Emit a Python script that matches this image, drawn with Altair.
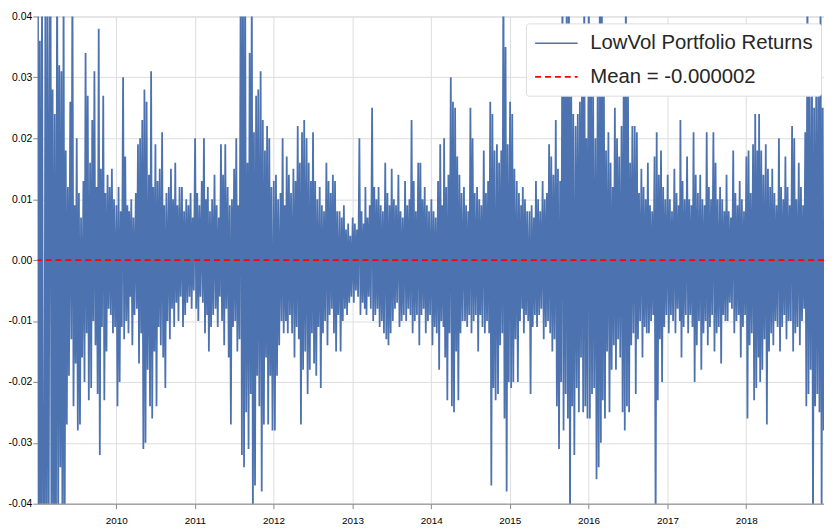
import altair as alt
import pandas as pd

r2009 = [0.058, -0.052, 0.036, -0.061, 0.047, -0.044,
         -0.049, 0.052, -0.057, 0.041, -0.042, 0.033,
         0.062, -0.055, 0.028, -0.047, 0.024, -0.058,
         0.051, -0.044, 0.032, -0.034, 0.031, -0.051,
         0.045, -0.046, 0.018, -0.027, 0.012, -0.019,
         0.026, -0.013, 0.048, -0.024, 0.009, -0.017,
         0.020, -0.028, 0.011, -0.027, 0.007, -0.016,
         0.013, -0.020, 0.034, -0.012, 0.027, -0.023,
         0.016, -0.021, 0.023, -0.010, 0.031, -0.014,
         0.012, -0.022, 0.038, -0.032, 0.015, -0.011,
         0.027, -0.023, 0.011, -0.015, 0.014, -0.008,
         0.012, -0.009, 0.015, -0.012, 0.010, -0.011]
r2010 = [0.009, -0.024, 0.012, -0.020, 0.008, -0.011,
         0.030, -0.013, 0.017, -0.010, 0.009, -0.012,
         0.008, -0.006, 0.010, -0.014, 0.007, -0.009,
         0.011, -0.008, 0.019, -0.017, 0.020, -0.012,
         0.023, -0.031, 0.028, -0.030, 0.026, -0.018,
         0.014, -0.024, 0.031, -0.026, 0.012, -0.015,
         0.019, -0.024, 0.013, -0.011, 0.015, -0.014,
         0.021, -0.016, 0.009, -0.021, 0.011, -0.010,
         0.012, -0.013, 0.015, -0.008, 0.010, -0.011,
         0.016, -0.007, 0.009, -0.010, 0.012, -0.006,
         0.012, -0.011, 0.008, -0.009, 0.010, -0.007,
         0.009, -0.006, 0.011, -0.008, 0.007, -0.005]
r2011 = [0.020, -0.008, 0.011, -0.010, 0.009, -0.006,
         0.013, -0.007, 0.020, -0.012, 0.010, -0.009,
         0.012, -0.015, 0.008, -0.011, 0.010, -0.009,
         0.014, -0.008, 0.009, -0.011, 0.007, -0.006,
         0.019, -0.010, 0.014, -0.014, 0.019, -0.008,
         0.012, -0.016, 0.009, -0.027, 0.010, -0.011,
         0.015, -0.010, 0.020, -0.015, 0.009, -0.013,
         0.052, -0.032, 0.045, -0.034, 0.048, -0.025,
         0.016, -0.031, 0.034, -0.022, 0.046, -0.043,
         0.021, -0.037, 0.027, -0.019, 0.028, -0.024,
         0.031, -0.038, 0.023, -0.027, 0.018, -0.016,
         0.022, -0.027, 0.020, -0.019, 0.012, -0.028]
r2012 = [0.013, -0.028, 0.014, -0.019, 0.010, -0.014,
         0.011, -0.010, 0.020, -0.012, 0.009, -0.010,
         0.017, -0.012, 0.014, -0.009, 0.011, -0.012,
         0.015, -0.016, 0.013, -0.011, 0.022, -0.013,
         0.016, -0.027, 0.021, -0.018, 0.023, -0.015,
         0.020, -0.022, 0.016, -0.018, 0.013, -0.012,
         0.021, -0.017, 0.013, -0.019, 0.010, -0.011,
         0.012, -0.021, 0.009, -0.012, 0.008, -0.010,
         0.016, -0.014, 0.013, -0.009, 0.011, -0.008,
         0.014, -0.012, 0.013, -0.015, 0.008, -0.009,
         0.008, -0.015, 0.007, -0.010, 0.009, -0.008,
         0.005, -0.009, 0.006, -0.007, 0.004, -0.006]
r2013 = [0.007, -0.007, 0.006, -0.005, 0.005, -0.006,
         0.020, -0.009, 0.008, -0.007, 0.006, -0.008,
         0.012, -0.009, 0.007, -0.006, 0.009, -0.008,
         0.025, -0.010, 0.012, -0.009, 0.010, -0.008,
         0.012, -0.011, 0.009, -0.010, 0.008, -0.012,
         0.016, -0.013, 0.011, -0.014, 0.009, -0.012,
         0.015, -0.010, 0.010, -0.008, 0.009, -0.007,
         0.014, -0.011, 0.008, -0.010, 0.007, -0.009,
         0.013, -0.010, 0.009, -0.008, 0.010, -0.009,
         0.023, -0.012, 0.013, -0.010, 0.008, -0.009,
         0.016, -0.014, 0.016, -0.009, 0.010, -0.008,
         0.012, -0.012, 0.009, -0.010, 0.008, -0.009]
r2014 = [0.010, -0.014, 0.008, -0.011, 0.007, -0.012,
         0.013, -0.018, 0.019, -0.010, 0.009, -0.011,
         0.020, -0.016, 0.012, -0.023, 0.014, -0.012,
         0.030, -0.024, 0.026, -0.025, 0.025, -0.015,
         0.017, -0.023, 0.014, -0.012, 0.011, -0.010,
         0.012, -0.010, 0.009, -0.011, 0.008, -0.009,
         0.025, -0.012, 0.020, -0.010, 0.011, -0.009,
         0.012, -0.015, 0.010, -0.009, 0.009, -0.011,
         0.018, -0.012, 0.011, -0.010, 0.013, -0.012,
         0.026, -0.037, 0.024, -0.021, 0.018, -0.023,
         0.019, -0.022, 0.016, -0.014, 0.018, -0.012,
         0.048, -0.026, 0.035, -0.038, 0.019, -0.020]
r2015 = [0.026, -0.021, 0.024, -0.020, 0.015, -0.013,
         0.013, -0.020, 0.011, -0.010, 0.009, -0.008,
         0.012, -0.012, 0.010, -0.009, 0.008, -0.010,
         0.008, -0.022, 0.009, -0.011, 0.007, -0.009,
         0.013, -0.011, 0.010, -0.009, 0.008, -0.008,
         0.013, -0.013, 0.010, -0.011, 0.011, -0.010,
         0.019, -0.012, 0.017, -0.015, 0.014, -0.013,
         0.023, -0.024, 0.015, -0.031, 0.013, -0.020,
         0.047, -0.028, 0.030, -0.022, 0.052, -0.026,
         0.043, -0.045, 0.035, -0.024, 0.024, -0.032,
         0.022, -0.021, 0.024, -0.025, 0.026, -0.016,
         0.035, -0.025, 0.046, -0.024, 0.020, -0.026]
r2016 = [0.048, -0.026, 0.035, -0.022, 0.030, -0.021,
         0.020, -0.036, 0.027, -0.034, 0.041, -0.030,
         0.052, -0.023, 0.030, -0.026, 0.018, -0.015,
         0.021, -0.025, 0.016, -0.018, 0.012, -0.014,
         0.025, -0.018, 0.020, -0.013, 0.017, -0.016,
         0.022, -0.025, 0.030, -0.028, 0.047, -0.024,
         0.027, -0.025, 0.016, -0.014, 0.022, -0.012,
         0.022, -0.022, 0.021, -0.013, 0.011, -0.010,
         0.015, -0.016, 0.012, -0.011, 0.010, -0.012,
         0.016, -0.012, 0.009, -0.010, 0.008, -0.009,
         0.017, -0.045, 0.021, -0.023, 0.014, -0.013,
         0.018, -0.020, 0.012, -0.011, 0.010, -0.009]
r2017 = [0.014, -0.012, 0.010, -0.009, 0.008, -0.010,
         0.015, -0.012, 0.011, -0.008, 0.009, -0.010,
         0.023, -0.016, 0.013, -0.011, 0.010, -0.009,
         0.017, -0.012, 0.010, -0.009, 0.009, -0.011,
         0.021, -0.020, 0.014, -0.014, 0.011, -0.010,
         0.014, -0.018, 0.010, -0.012, 0.009, -0.010,
         0.021, -0.014, 0.012, -0.011, 0.010, -0.009,
         0.021, -0.015, 0.016, -0.012, 0.010, -0.011,
         0.012, -0.017, 0.010, -0.009, 0.008, -0.010,
         0.014, -0.010, 0.008, -0.007, 0.007, -0.008,
         0.018, -0.012, 0.011, -0.010, 0.009, -0.009,
         0.013, -0.016, 0.010, -0.011, 0.008, -0.009]
r2018 = [0.017, -0.026, 0.018, -0.014, 0.011, -0.012,
         0.019, -0.023, 0.024, -0.021, 0.018, -0.016,
         0.024, -0.020, 0.018, -0.018, 0.014, -0.013,
         0.019, -0.027, 0.015, -0.015, 0.012, -0.012,
         0.015, -0.014, 0.011, -0.010, 0.009, -0.011,
         0.020, -0.015, 0.012, -0.011, 0.010, -0.009,
         0.017, -0.013, 0.012, -0.010, 0.009, -0.010,
         0.022, -0.015, 0.020, -0.012, 0.010, -0.011,
         0.016, -0.014, 0.012, -0.010, 0.009, -0.008,
         0.021, -0.024, 0.048, -0.022, 0.028, -0.018,
         0.035, -0.045, 0.025, -0.024, 0.030, -0.022,
         0.028, -0.025, 0.045, -0.041, 0.025, -0.028]

years = [2009, 2010, 2011, 2012, 2013, 2014, 2015, 2016, 2017, 2018]
yearly = [r2009, r2010, r2011, r2012, r2013, r2014, r2015, r2016, r2017, r2018]
sample_days = [2, 7, 12, 17, 22, 27]

mean_value = -0.000002
series_names = ["LowVol Portfolio Returns", "Mean = -0.000002"]
y_ticks = [-0.04, -0.03, -0.02, -0.01, 0.0, 0.01, 0.02, 0.03, 0.04]

rows = []
for yr, vals in zip(years, yearly):
    for i, v in enumerate(vals):
        month = i // 6 + 1
        day = sample_days[i % 6]
        rows.append({"date": f"{yr}-{month:02d}-{day:02d}", "ret": v,
                     "series": series_names[0]})
df = pd.DataFrame(rows)
mean_df = pd.DataFrame([{"ret": mean_value, "series": series_names[1]}])

FONT = "Liberation Sans, Arial, sans-serif"

color_scale = alt.Scale(domain=series_names, range=["#4C72B0", "#FF0000"])
dash_scale = alt.Scale(domain=series_names, range=[[1, 0], [6, 4]])

legend = alt.Legend(
    title=None, orient="none", legendX=493, legendY=7,
    symbolType="M-1,0H3", symbolSize=462, symbolStrokeWidth=1.6,
    labelFontSize=20.5, labelFont=FONT, labelColor="#262626", labelLimit=500,
    labelOffset=33, rowPadding=11, padding=8,
    fillColor="white", strokeColor="#dddddd", cornerRadius=3,
)

x_enc = alt.X("date:T", title="",
              scale=alt.Scale(domain=["2009-01-02", "2018-12-28"]),
              axis=alt.Axis(format="%Y", tickCount={"interval": "year", "step": 1},
                            labelFontSize=10, labelPadding=7))
y_scale = alt.Scale(domain=[-0.04, 0.04])

line = alt.Chart(df).mark_line(strokeWidth=1.8, clip=True).encode(
    x=x_enc,
    y=alt.Y("ret:Q", title="", scale=y_scale,
            axis=alt.Axis(values=y_ticks, format=".2f", labelFontSize=10.5,
                          labelPadding=1,
                          labelExpr="replace(datum.label, '\u2212', '-')")),
    color=alt.Color("series:N", scale=color_scale, legend=legend),
    strokeDash=alt.StrokeDash("series:N", scale=dash_scale, legend=legend),
)

mean_rule = alt.Chart(mean_df).mark_rule(strokeWidth=1.6).encode(
    y=alt.Y("ret:Q", scale=y_scale),
    color=alt.Color("series:N", scale=color_scale, legend=legend),
    strokeDash=alt.StrokeDash("series:N", scale=dash_scale, legend=legend),
)

chart = alt.layer(line, mean_rule).properties(
    width=794, height=492,
    autosize=alt.AutoSizeParams(type="none"),
    padding={"left": 30, "top": 6, "right": 0, "bottom": 22},
).configure_view(stroke=None).configure_axis(
    domain=False, ticks=False, tickSize=0, grid=True, gridColor="#d0d0d0",
    gridWidth=1, labelFont=FONT, labelColor="#444444",
).configure(background="white")

chart.save("out.html", embed_options={"renderer": "svg", "actions": False})
